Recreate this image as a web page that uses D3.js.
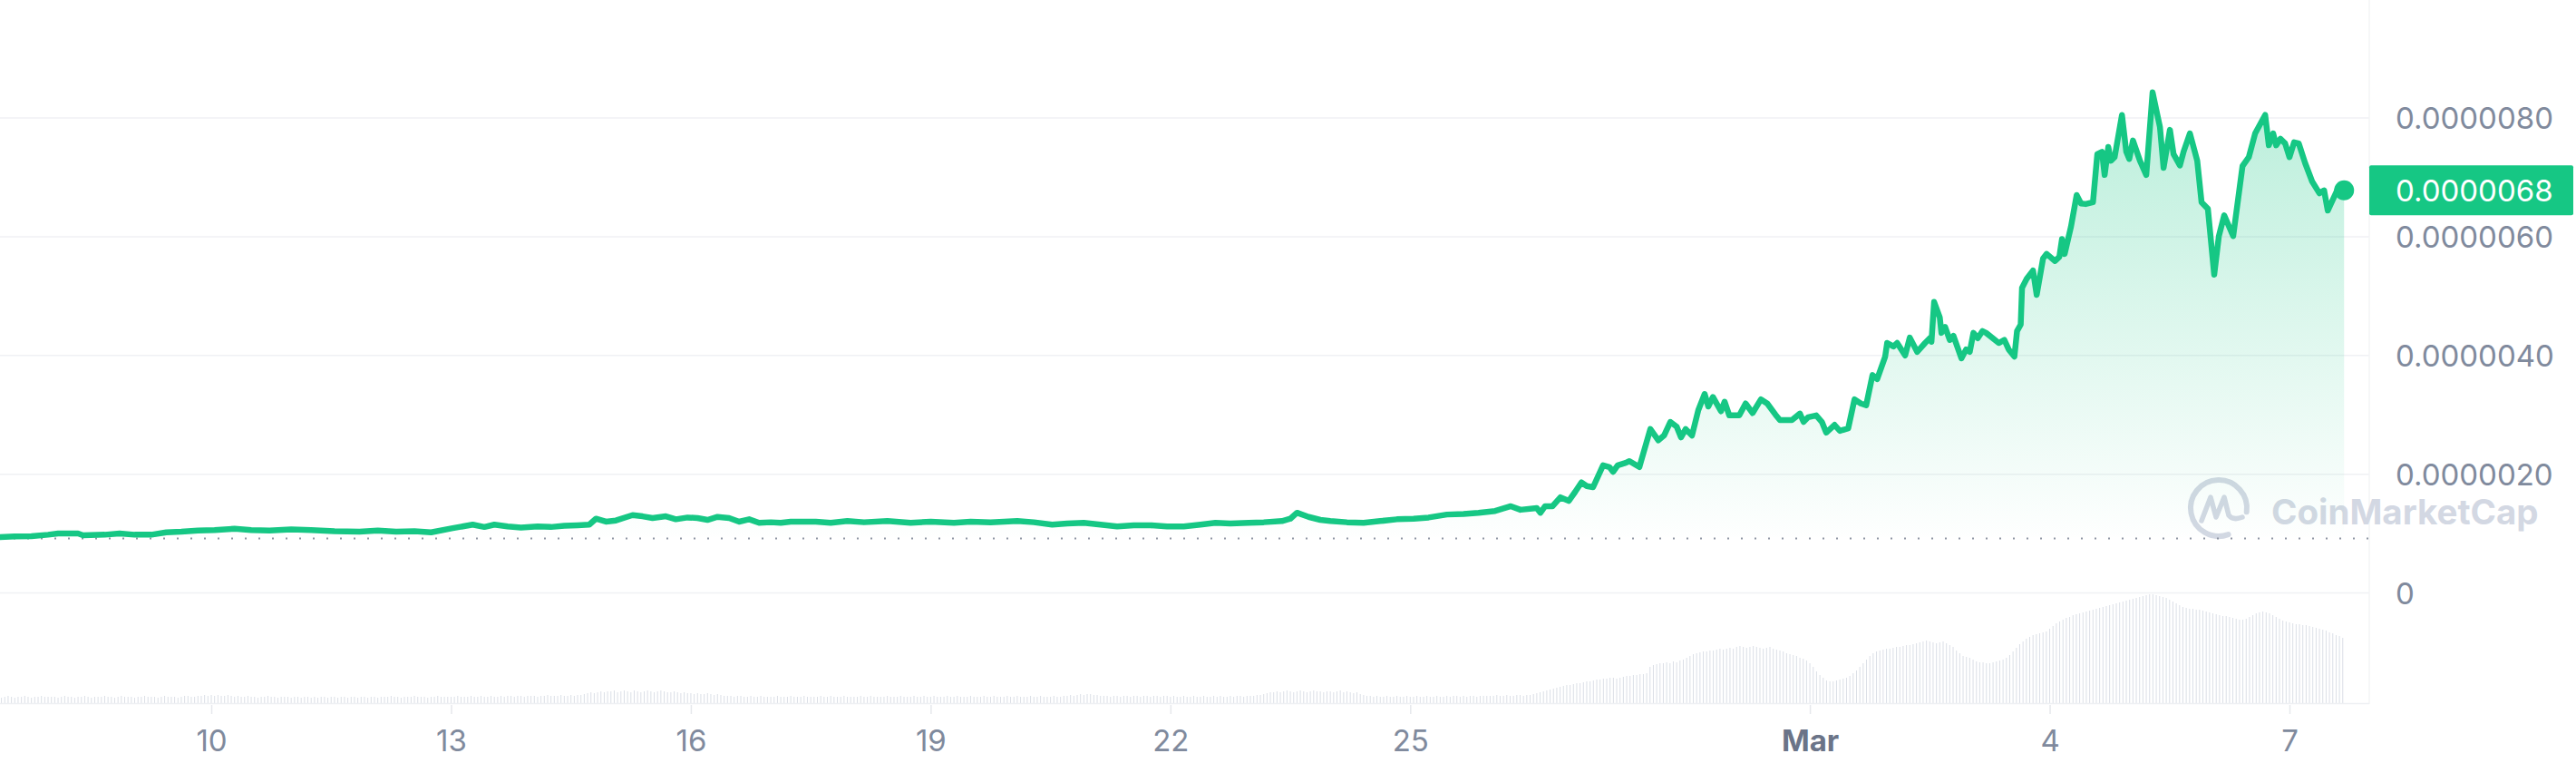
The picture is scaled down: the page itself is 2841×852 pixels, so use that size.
<!DOCTYPE html>
<html>
<head>
<meta charset="utf-8">
<script src="https://cdn.jsdelivr.net/npm/d3@7"></script>
<style>
html,body{margin:0;padding:0;background:#fff;}
svg{display:block;}
</style>
</head>
<body>
<svg id="chart" width="2841" height="852"></svg>
<script>
// ---------- DATA ----------
// price series: hours since 2024-02-07 00:00 UTC, price in millionths (×1e-6)
const priceHours = [8.5,13,18,23,26,32,33.5,40,44.5,49,54,58.5,63,68,73,79,84,89.5,96,102,109,116.5,122,127.5,133,138,144.5,150.5,154,157,161,165,170,174,178,182,185.5,187.5,190.5,193.5,198.5,201.5,204.5,208.5,211.5,215,218,221,224,227.5,230.5,233.5,236.5,240,243,246,249.5,253.5,258,263,268,275,282,288,295,300,306,314,319,324.5,329,334,339,344,349,354,359,364,369,373.5,378,383.5,388,393.5,396,398,401.5,405,408,413,418,423,428,433,437.5,443,448,452.5,457.5,
462.2,465.1,470,471.1,472.5,474.7,477.1,479.6,481.5,483.4,485,486.9,489.9,491.8,492.9,494.3,496.7,497.8,500.8,504.1,506.5,508.2,510.1,512,513.3,514.7,516.6,518.5,520.4,521.5,522.9,525.3,526.4,527.8,530.8,532.7,534.8,537.3,539.2,541.7,543,546.6,549,550.1,551.5,553.9,555.6,556.9,559.4,561,563.5,565.4,567.3,568.9,570.8,572.2,574.6,575.2,577.1,578.2,580.6,582,584.2,586.6,588,588.5,589.3,591,591.5,592.6,594,595.1,597.5,598.9,600,601.1,602.4,603.8,604.9,608.7,610.4,611.7,613.4,614.2,615.3,615.7,617.1,619,620.1,622,623.1,625.6,626.9,627.7,628.5,630.4,632.1,633.4,634.8,
637,638.3,639.7,640.5,641.6,642.4,643.5,645.7,647,647.9,649,651.1,653,654.9,657.1,658.2,660.1,661.2,663.1,664.2,666.1,668.3,669.6,671.5,673.4,674.8,676.4,679.1,681.9,683.8,685.7,688.7,689.8,691.1,692,693.3,694.7,696,697.4,698.8,700.7,702.8,705,706.4,707.5,710.3,712.4];
const priceE6 = [0.94,0.95,0.955,0.98,1.0,1.0,0.97,0.98,1.0,0.98,0.98,1.02,1.03,1.05,1.06,1.08,1.06,1.05,1.07,1.06,1.04,1.03,1.05,1.03,1.04,1.02,1.09,1.15,1.11,1.15,1.12,1.10,1.12,1.11,1.13,1.14,1.15,1.25,1.20,1.22,1.31,1.29,1.26,1.29,1.24,1.27,1.26,1.23,1.28,1.26,1.20,1.24,1.18,1.19,1.18,1.20,1.20,1.20,1.18,1.21,1.19,1.21,1.18,1.20,1.18,1.20,1.19,1.21,1.19,1.15,1.17,1.18,1.15,1.12,1.14,1.14,1.12,1.12,1.15,1.18,1.17,1.18,1.19,1.21,1.25,1.35,1.28,1.23,1.21,1.19,1.18,1.21,1.24,1.25,1.27,1.32,1.33,1.35,1.38,
1.46,1.40,1.43,1.35,1.46,1.46,1.61,1.55,1.70,1.86,1.80,1.78,2.15,2.12,2.04,2.15,2.19,2.22,2.12,2.76,2.57,2.65,2.88,2.80,2.62,2.76,2.65,3.08,3.35,3.14,3.30,3.06,3.22,2.99,2.99,3.19,3.03,3.26,3.19,3.00,2.91,2.91,3.02,2.88,2.96,2.99,2.88,2.70,2.83,2.73,2.77,3.26,3.19,3.16,3.67,3.60,3.98,4.21,4.15,4.21,4.00,4.30,4.06,4.21,4.29,4.23,4.90,4.64,4.38,4.48,4.26,4.33,3.95,4.10,4.06,4.38,4.29,4.41,4.38,4.21,4.26,4.10,3.98,4.41,4.52,5.14,5.29,5.43,5.02,5.63,5.71,5.59,5.66,5.96,5.71,6.17,6.70,6.56,6.55,
6.58,7.39,7.43,7.04,7.51,7.28,7.34,8.05,7.43,7.31,7.62,7.28,7.04,8.43,7.85,7.16,7.80,7.39,7.20,7.43,7.74,7.28,6.58,6.47,5.36,6.01,6.36,6.01,7.19,7.34,7.74,8.05,7.54,7.74,7.54,7.65,7.57,7.34,7.59,7.57,7.24,6.93,6.73,6.78,6.44,6.78,6.78];

// hourly volume (relative units), starting at hour 8 of 2024-02-07
const volumeStartHour = 8;
const volumes = [
 7,6,7,8,7,6,7,7,8,7,6,7,7,8,7,7,
 7,7,6,7,8,7,7,6,7,7,8,7,6,7,7,7,8,7,7,6,7,8,7,7,
 7,6,7,7,8,7,7,7,6,7,8,7,7,7,6,7,8,8,7,7,8,8,9,8,
 9,8,9,8,8,9,8,7,8,7,7,8,7,7,6,7,7,8,7,7,6,7,7,7,
 6,7,7,6,7,7,6,7,6,7,7,6,7,7,6,7,7,6,7,7,6,7,7,6,
 7,7,6,7,7,7,8,7,7,6,7,7,7,8,7,7,7,6,7,7,8,7,7,7,
 7,7,8,7,7,7,8,7,7,8,7,7,8,7,7,8,7,8,8,7,8,8,7,8,
 8,8,7,8,8,9,8,8,8,9,8,8,9,8,9,9,10,11,12,11,12,13,12,13,
 13,14,12,13,14,13,12,14,13,12,13,14,13,12,13,14,13,12,12,13,12,11,12,11,
 11,10,11,10,10,11,10,9,10,9,8,8,8,7,8,8,7,7,8,7,7,8,7,7,
 7,7,8,7,7,7,8,7,7,7,8,7,7,7,7,8,7,7,8,7,7,7,8,7,
 7,7,7,8,7,7,8,7,7,7,7,8,7,7,7,8,7,7,7,8,7,7,8,7,
 7,8,7,7,7,8,7,7,8,7,7,7,8,7,7,7,8,7,7,8,7,7,7,8,
 7,7,8,7,7,7,8,7,7,8,7,7,7,8,7,7,8,8,9,8,9,10,9,10,
 10,9,9,8,8,8,7,8,8,7,8,8,7,8,8,7,8,8,7,8,8,7,8,8,
 7,8,7,7,8,7,7,8,7,7,8,7,7,8,7,8,7,7,8,7,8,8,7,8,
 8,8,9,9,10,11,12,12,13,12,13,14,13,12,13,14,13,12,13,14,13,13,12,13,
 13,12,13,14,12,13,12,11,12,10,9,8,8,7,8,7,7,8,7,7,8,7,7,8,
 7,7,8,7,7,8,7,7,8,7,7,8,7,8,8,7,8,7,8,8,7,8,8,8,
 8,8,9,8,8,9,8,8,9,9,8,9,9,10,11,12,13,14,15,16,17,18,19,20,
 20,21,22,22,23,24,24,25,26,26,27,27,28,28,27,28,29,30,30,31,31,32,32,33,
 40,42,43,44,44,45,44,46,45,47,48,50,52,54,55,56,57,57,58,58,59,60,59,60,
 61,60,62,63,62,61,62,63,62,61,60,61,62,60,59,58,57,55,54,53,52,50,49,47,
 44,40,35,31,28,25,24,24,25,26,27,28,30,33,36,40,44,48,52,55,57,58,59,60,
 60,61,62,62,63,64,64,65,66,67,68,69,68,67,66,67,68,66,64,62,58,55,52,51,
 50,48,46,45,45,44,44,45,46,47,48,50,53,57,61,65,68,71,73,75,76,77,78,79,
 82,85,88,90,92,94,95,97,98,99,100,101,102,103,104,105,106,107,108,109,110,111,112,113,
 114,115,116,117,118,119,120,120,119,118,117,116,114,112,110,108,106,105,104,104,103,103,102,101,
 100,99,98,97,96,96,95,94,93,92,92,93,95,97,99,100,101,100,99,97,95,93,91,90,
 89,88,87,87,86,86,85,84,83,82,81,80,78,77,75,74,72
];

const xTickDates = ["2024-02-10","2024-02-13","2024-02-16","2024-02-19","2024-02-22","2024-02-25","2024-03-01","2024-03-04","2024-03-07"];
const xTickLabels = ["10","13","16","19","22","25","Mar","4","7"];
const yTickValues = [0, 2, 4, 6, 8];
const yTickLabels = ["0","0.0000020","0.0000040","0.0000060","0.0000080"];
const lastPriceLabel = "0.0000068";
const baseDate = Date.UTC(2024, 1, 7);

// ---------- CHART ----------
const GREEN = "#16c784";
const svg = d3.select("#chart");
const plotRight = 2613;

const x = d3.scaleUtc()
  .domain([new Date(Date.UTC(2024,1,10)), new Date(Date.UTC(2024,2,7))])
  .range([233, 2525]);
const y = d3.scaleLinear().domain([0, 8]).range([653.5, 130]);
const yVol = d3.scaleLinear().domain([0, 120]).range([775, 655]);

const hourDate = h => new Date(baseDate + h * 3600e3);
const pts = priceHours.map((h, i) => ({ t: hourDate(h), v: priceE6[i] }));

// gradient
const defs = svg.append("defs");
const grad = defs.append("linearGradient").attr("id", "areaGrad")
  .attr("gradientUnits", "userSpaceOnUse")
  .attr("x1", 0).attr("x2", 0).attr("y1", 100).attr("y2", 600);
grad.append("stop").attr("offset", "0").attr("stop-color", GREEN).attr("stop-opacity", 0.3);
grad.append("stop").attr("offset", "1").attr("stop-color", GREEN).attr("stop-opacity", 0.0);

// gridlines
svg.append("g").selectAll("line").data(yTickValues).join("line")
  .attr("x1", 0).attr("x2", plotRight)
  .attr("y1", d => y(d)).attr("y2", d => y(d))
  .attr("stroke", "#f0f1f4").attr("stroke-width", 1.5);

// right separator
svg.append("line").attr("x1", plotRight).attr("x2", plotRight).attr("y1", 0).attr("y2", 776)
  .attr("stroke", "#f3f4f6").attr("stroke-width", 1.5);

// volume bars
svg.append("g").selectAll("line").data(volumes).join("line")
  .attr("x1", (d, i) => x(hourDate(volumeStartHour + i)))
  .attr("x2", (d, i) => x(hourDate(volumeStartHour + i)))
  .attr("y1", yVol(0)).attr("y2", d => yVol(d))
  .attr("stroke", "#c3cad6").attr("stroke-opacity", 0.6).attr("stroke-width", 1);

// volume baseline
svg.append("line").attr("x1", 0).attr("x2", plotRight).attr("y1", 775.5).attr("y2", 775.5)
  .attr("stroke", "#eef0f3").attr("stroke-width", 1.5);

// watermark
const wm = svg.append("g").attr("fill", "none").attr("stroke", "#d3d8e3");
const cx = 2447, cy = 560, r = 31;
const a0 = 70 * Math.PI / 180, a1 = 8 * Math.PI / 180;
wm.append("path").attr("stroke-width", 6).attr("stroke-linecap", "round")
  .attr("d", `M${cx + r*Math.cos(a0)},${cy + r*Math.sin(a0)} A${r},${r} 0 1 1 ${cx + r*Math.cos(a1)},${cy + r*Math.sin(a1)}`);
wm.append("path").attr("stroke-width", 5.5).attr("stroke-linecap", "round").attr("stroke-linejoin", "round")
  .attr("d", `M${cx-19},${cy+14} L${cx-9},${cy-12} L${cx-3},${cy+10} L${cx+6},${cy-12} L${cx+11},${cy+8} Q${cx+16},${cy+14} ${cx+26},${cy+10}`);
svg.append("text").attr("x", 2505).attr("y", 578)
  .attr("font-family", "Inter, 'Noto Sans', sans-serif").attr("font-weight", 700)
  .attr("font-size", 38.5).attr("fill", "#d3d8e3").text("CoinMarketCap");

// baseline dotted line (opening price)
const yBase = y(priceE6[0]);
svg.append("line").attr("x1", 0).attr("x2", plotRight).attr("y1", yBase + 1.5).attr("y2", yBase + 1.5)
  .attr("stroke", "#8f96a3").attr("stroke-width", 2).attr("stroke-dasharray", "2,13");

// area + line
const area = d3.area().x(d => x(d.t)).y0(yBase).y1(d => y(d.v));
svg.append("path").datum(pts).attr("d", area).attr("fill", "url(#areaGrad)");
const line = d3.line().x(d => x(d.t)).y(d => y(d.v));
svg.append("path").datum(pts).attr("d", line).attr("fill", "none")
  .attr("stroke", GREEN).attr("stroke-width", 6.5)
  .attr("stroke-linejoin", "round").attr("stroke-linecap", "round");

const last = pts[pts.length - 1];
svg.append("circle").attr("cx", x(last.t)).attr("cy", y(last.v)).attr("r", 11).attr("fill", GREEN);

// y axis labels
const yAxis = d3.axisRight(y).tickValues(yTickValues)
  .tickFormat((d, i) => yTickLabels[i]).tickSize(0).tickPadding(0);
const gy = svg.append("g").attr("transform", "translate(2642,0)").call(yAxis);
gy.select(".domain").remove();
gy.selectAll("text").attr("font-family", "Inter, 'Noto Sans', sans-serif")
  .attr("font-size", 33).attr("fill", "#808a9d").attr("dy", "0.36em");

// last price tag
const ly = y(last.v);
svg.append("rect").attr("x", plotRight).attr("y", ly - 27.5).attr("width", 225).attr("height", 55)
  .attr("fill", GREEN).attr("rx", 2);
svg.append("text").attr("x", 2642).attr("y", ly).attr("dy", "0.36em")
  .attr("font-family", "Inter, 'Noto Sans', sans-serif").attr("font-size", 33)
  .attr("fill", "#ffffff").text(lastPriceLabel);

// x axis
const xTicks = xTickDates.map(s => new Date(s + "T00:00:00Z"));
const xAxis = d3.axisBottom(x).tickValues(xTicks)
  .tickFormat((d, i) => xTickLabels[i]).tickSize(10).tickPadding(18);
const gx = svg.append("g").attr("transform", "translate(0,777)").call(xAxis);
gx.select(".domain").remove();
gx.selectAll(".tick line").attr("stroke", "#e6e8ec").attr("stroke-width", 1.5);
gx.selectAll("text").attr("font-family", "Inter, 'Noto Sans', sans-serif")
  .attr("font-size", 33)
  .attr("font-weight", (d, i) => xTickLabels[i] === "Mar" ? 700 : 400)
  .attr("fill", (d, i) => xTickLabels[i] === "Mar" ? "#6b7488" : "#808a9d");
</script>
</body>
</html>
